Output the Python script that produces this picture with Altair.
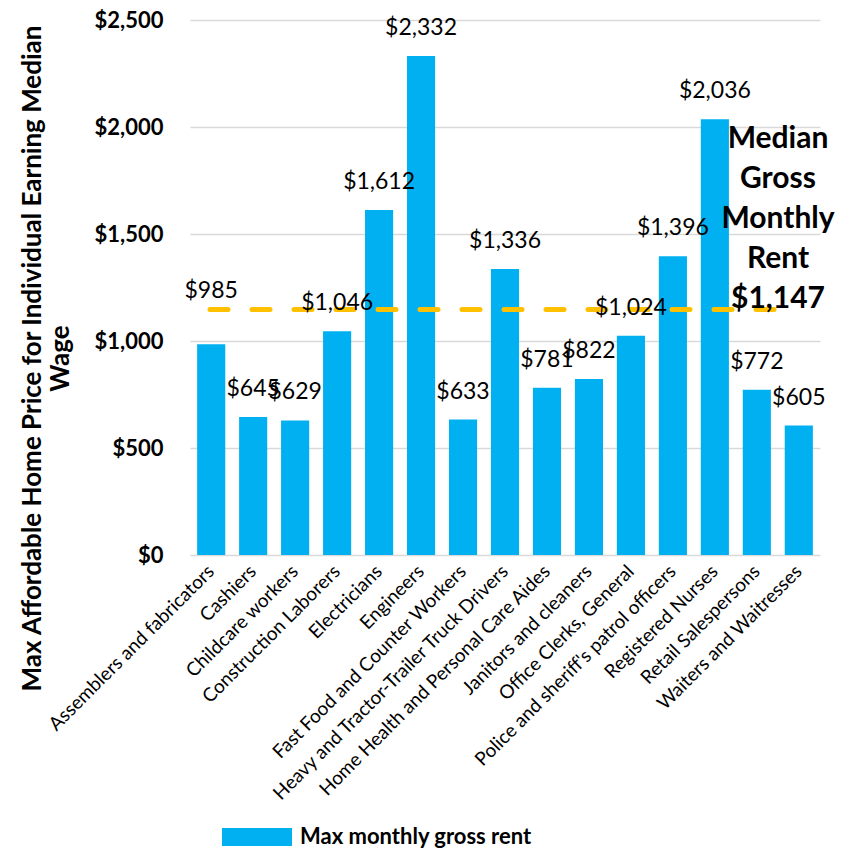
import altair as alt
import pandas as pd

occupations = [
    "Assemblers and fabricators", "Cashiers", "Childcare workers", "Construction Laborers",
    "Electricians", "Engineers", "Fast Food and Counter Workers",
    "Heavy and Tractor-Trailer Truck Drivers", "Home Health and Personal Care Aides",
    "Janitors and cleaners", "Office Clerks, General", "Police and sheriff's patrol officers",
    "Registered Nurses", "Retail Salespersons", "Waiters and Waitresses",
]
max_rent = [985, 645, 629, 1046, 1612, 2332, 633, 1336, 781, 822, 1024, 1396, 2036, 772, 605]
series_name = "Max monthly gross rent"
median_rent = 1147
median_text = ["Median", "Gross", "Monthly", "Rent", "$1,147"]

FONT = "Lato"
BLUE = "#00B0F0"
GOLD = "#FFC000"

df = pd.DataFrame({"occ": occupations, "rent": max_rent, "series": series_name})
df["label"] = df["rent"].map(lambda v: f"${v:,.0f}")

x = alt.X("occ:N", sort=occupations, title=None,
          scale=alt.Scale(paddingInner=0.33, paddingOuter=0.17),
          axis=alt.Axis(labelAngle=-45, labelAlign="right", labelBaseline="middle",
                        labelFontSize=19, labelFont=FONT, labelColor="black",
                        ticks=False, domain=False, labelPadding=13, labelLimit=500))
y = alt.Y("rent:Q", scale=alt.Scale(domain=[0, 2500], nice=False),
          title=["Max Affordable Home Price for Individual Earning Median", "Wage"],
          axis=alt.Axis(values=[0, 500, 1000, 1500, 2000, 2500], format="$,.0f",
                        labelFontSize=22, labelFontWeight="bold", labelFont=FONT,
                        labelColor="black", labelPadding=27, ticks=False, domain=False,
                        gridColor="#d9d9d9", gridWidth=1.5,
                        titleFontSize=26, titleFontWeight="bold", titleFont=FONT,
                        titleColor="black", titleAngle=-90, titleAlign="center",
                        titleBaseline="top", titleX=-171, titleY=338, titleLineHeight=28))

bars = alt.Chart(df).mark_bar().encode(
    x=x, y=y,
    color=alt.Color("series:N", scale=alt.Scale(range=[BLUE]), title=None,
                    legend=alt.Legend(orient="none", legendX=32, legendY=782,
                                      symbolType="M-1,-0.26H1V0.26H-1Z", symbolSize=4900,
                                      symbolStrokeWidth=0, symbolOpacity=1,
                                      labelFontSize=22, labelFontWeight="bold", labelFont=FONT,
                                      labelColor="black", labelLimit=500, labelOffset=8)),
)

lab_enc = dict(x=alt.X("occ:N", sort=occupations), y="rent:Q", text="label:N")
labels = alt.Chart(df).mark_text(baseline="middle", dy=-28, fontSize=23, font=FONT,
                                 color="black").encode(**lab_enc).transform_filter(
    alt.datum.occ != occupations[0])
label_first = alt.Chart(df).mark_text(baseline="middle", dy=-53, fontSize=23, font=FONT,
                                      color="black").encode(**lab_enc).transform_filter(
    alt.datum.occ == occupations[0])

med_df = pd.DataFrame({"median": [median_rent], "txt": [median_text]})
rule = alt.Chart(med_df).mark_rule(color=GOLD, strokeWidth=5, strokeDash=[18, 24],
                                   strokeCap="round").encode(
    y="median:Q", x=alt.value(20), x2=alt.value(585))
med_label = alt.Chart(med_df).mark_text(fontSize=30, fontWeight="bold", font=FONT,
                                        color="black", baseline="middle", align="center",
                                        lineHeight=40, dy=-171).encode(
    y="median:Q", x=alt.value(588), text="txt")

chart = alt.layer(bars, rule, labels, label_first, med_label).properties(
    width=630, height=535,
    autosize=alt.AutoSizeParams(type="none"),
    padding={"left": 182, "top": 12, "right": 27, "bottom": 297},
).configure_view(stroke=None)

chart.save("out.html", embed_options={"renderer": "svg", "actions": False})
